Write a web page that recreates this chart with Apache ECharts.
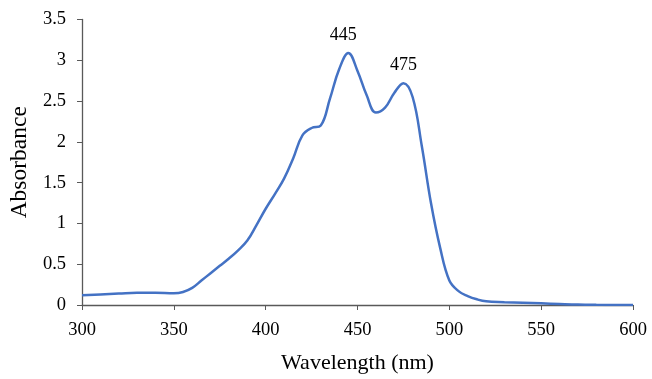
<!DOCTYPE html>
<html>
<head>
<meta charset="utf-8">
<script src="https://cdn.jsdelivr.net/npm/echarts@6/dist/echarts.min.js"></script>
<style>html,body{margin:0;padding:0;background:#fff}#c{width:652px;height:379px}</style>
</head>
<body>
<div id="c"></div>
<script>
const wavelengths = [300,310,320,330,340,350,355,360,365,370,375,380,385,390,395,400,405,410,415,420,425,430,435,440,445,450,455,460,465,470,475,480,485,490,495,500,505,510,515,520,530,540,550,560,570,580,590,600];
const absorbance = [0.12,0.13,0.14,0.15,0.15,0.145,0.16,0.21,0.3,0.39,0.48,0.57,0.67,0.79,0.98,1.18,1.36,1.55,1.8,2.08,2.17,2.2,2.53,2.89,3.09,2.87,2.57,2.36,2.42,2.6,2.72,2.55,1.95,1.25,0.7,0.3,0.17,0.11,0.07,0.045,0.035,0.028,0.02,0.012,0.005,0.002,0.001,0.0];
const peakLabels = ["445","475"];
const peakX = [445,475];
const peakY = [3.09,2.72];
const xTitle = "Wavelength (nm)";
const yTitle = "Absorbance";

const font = "'Liberation Serif', 'Times New Roman', serif";
const chart = echarts.init(document.getElementById('c'));
chart.setOption({
  animation: false,
  textStyle: {fontFamily: font},
  grid: {left: 81, right: 19, top: 19.5, bottom: 70.7},
  xAxis: {
    type: 'value', min: 300, max: 600, interval: 50,
    name: xTitle, nameLocation: 'middle', nameGap: 47,
    nameTextStyle: {fontFamily: font, fontSize: 22, color: '#000'},
    axisLine: {lineStyle: {color: '#595959', width: 1.3}},
    axisTick: {show: true, length: 5, inside: false, lineStyle: {color: '#595959'}},
    axisLabel: {fontFamily: font, fontSize: 18.5, color: '#000', margin: 16},
    splitLine: {show: false}
  },
  yAxis: {
    type: 'value', min: 0, max: 3.5, interval: 0.5,
    name: yTitle, nameLocation: 'middle', nameGap: 47,
    nameTextStyle: {fontFamily: font, fontSize: 23.5, color: '#000'},
    axisLine: {show: true, lineStyle: {color: '#595959', width: 1.3}},
    axisTick: {show: true, length: 5, inside: false, lineStyle: {color: '#595959'}},
    axisLabel: {fontFamily: font, fontSize: 18.5, color: '#000', margin: 16},
    splitLine: {show: false}
  },
  series: [{
    type: 'line',
    data: wavelengths.map((w, i) => [w, absorbance[i]]),
    smooth: 0.4,
    showSymbol: false,
    lineStyle: {color: '#4472C4', width: 2.5},
    markPoint: {
      symbol: 'circle', symbolSize: 0,
      label: {show: true, position: 'top', distance: 9, fontFamily: font, fontSize: 18, color: '#000', formatter: p => p.name},
      data: peakLabels.map((t, i) => ({name: t, coord: [peakX[i], peakY[i]], label: {offset: [i === 0 ? -5 : 0, 0]}}))
    }
  }]
});
</script>
</body>
</html>
